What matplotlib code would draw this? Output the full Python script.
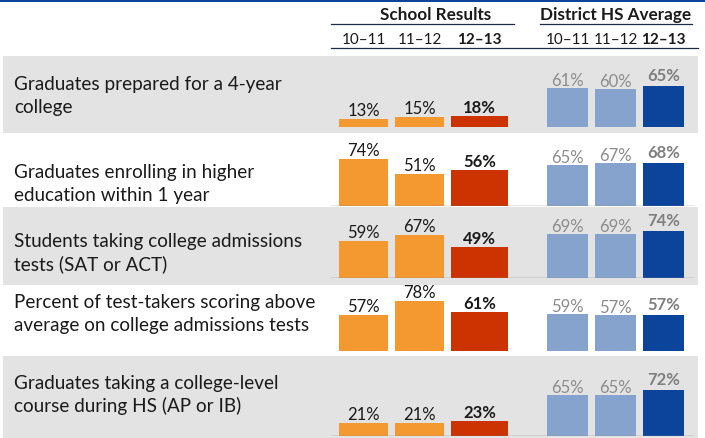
#!/usr/bin/env python3
# School results vs district HS average, one row of bars per indicator

import matplotlib.pyplot as plt
from matplotlib.patches import Rectangle
from matplotlib.lines import Line2D

plt.rcParams['font.family'] = ['Lato', 'DejaVu Sans']

W, H = 705, 439

indicators = [
    "Graduates prepared for a 4-year\ncollege",
    "Graduates enrolling in higher\neducation within 1 year",
    "Students taking college admissions\ntests (SAT or ACT)",
    "Percent of test-takers scoring above\naverage on college admissions tests",
    "Graduates taking a college-level\ncourse during HS (AP or IB)",
]
years = ["10–11", "11–12", "12–13"]
school = [
    [13, 15, 18],
    [74, 51, 56],
    [59, 67, 49],
    [57, 78, 61],
    [21, 21, 23],
]
district = [
    [61, 60, 65],
    [65, 67, 68],
    [69, 69, 74],
    [59, 57, 57],
    [65, 65, 72],
]

# layout in pixels (top-left origin)
row_bands = [(57, 134), (134, 208), (208, 286), (286, 357), (357, 439)]
baselines = [128, 207, 279, 352, 437]
text_centers = [96, 184, 253, 314, 395]
show_baseline = [False, True, True, False, True]
school_x = [363.5, 419.5, 479.5]
school_w = [49, 49, 57]
district_x = [567.5, 615.5, 663.5]
district_w = [41, 41, 41]
px_per_pct = 0.635

orange, red = '#F4992F', '#CC3300'
light_blue, dark_blue = '#85A3CC', '#0C449C'
band_gray = '#E3E3E3'
label_gray = '#8C8C8C'


def fx(x):
    return x / W


def fy(y):
    return 1 - y / H


fig = plt.figure(figsize=(W / 100, H / 100), dpi=100)

# top border
fig.add_artist(Rectangle((0, fy(2.5)), 1, 1 - fy(2.5), color=dark_blue, lw=0))

# gray bands on alternating rows
for i, (y0, y1) in enumerate(row_bands):
    if i % 2 == 0:
        fig.add_artist(Rectangle((fx(3), fy(y1)), fx(698) - fx(3), fy(y0) - fy(y1),
                                 color=band_gray, lw=0, zorder=0))

# headers
fig.text(fx(436), fy(15), "School Results", ha='center', va='center',
         fontsize=12.3, fontweight='bold', color='#1a1a1a')
fig.text(fx(616), fy(15), "District HS Average", ha='center', va='center',
         fontsize=12.3, fontweight='bold', color='#1a1a1a')
fig.add_artist(Line2D([fx(331), fx(514)], [fy(25), fy(25)], color='#1F2A44', lw=0.9))
fig.add_artist(Line2D([fx(540), fx(692)], [fy(25), fy(25)], color='#1F2A44', lw=0.9))
fig.add_artist(Line2D([fx(331), fx(698)], [fy(49), fy(49)], color='#1F2A44', lw=0.9))
for j, yr in enumerate(years):
    wt = 'bold' if j == 2 else 'normal'
    fig.text(fx(school_x[j]), fy(40), yr, ha='center', va='center',
             fontsize=11, fontweight=wt, color='#1a1a1a')
    fig.text(fx(district_x[j]), fy(40), yr, ha='center', va='center',
             fontsize=11, fontweight=wt, color='#1a1a1a')

ax_h = 72
for i, label in enumerate(indicators):
    fig.text(fx(14), fy(text_centers[i]), label, ha='left', va='center',
             fontsize=13.6, color='#1a1a1a', linespacing=1.38)

    b = baselines[i]
    ax = fig.add_axes([fx(331), fy(b), fx(699) - fx(331), fy(b - ax_h) - fy(b)])
    ax.set_xlim(331, 699)
    ax.set_ylim(0, ax_h / px_per_pct)
    ax.axis('off')
    ax.patch.set_alpha(0)

    ax.bar(school_x, school[i], width=school_w,
           color=[orange, orange, red], linewidth=0)
    ax.bar(district_x, district[i], width=district_w,
           color=[light_blue, light_blue, dark_blue], linewidth=0)

    for j in range(3):
        bold = j == 2
        ax.annotate(f"{school[i][j]}%", (school_x[j], school[i][j]),
                    xytext=(0, 4), textcoords='offset pixels',
                    ha='center', va='baseline', fontsize=12,
                    fontweight='bold' if bold else 'normal', color='#1a1a1a')
        ax.annotate(f"{district[i][j]}%", (district_x[j], district[i][j]),
                    xytext=(0, 6 if bold else 3), textcoords='offset pixels',
                    ha='center', va='baseline', fontsize=12,
                    fontweight='bold' if bold else 'normal',
                    color='#7F7F7F' if bold else label_gray)

    if show_baseline[i]:
        ax.axhline(0, xmin=0, xmax=(693 - 331) / (699 - 331), color='#808080', lw=1.0)

fig.savefig("out.png", dpi=100)
